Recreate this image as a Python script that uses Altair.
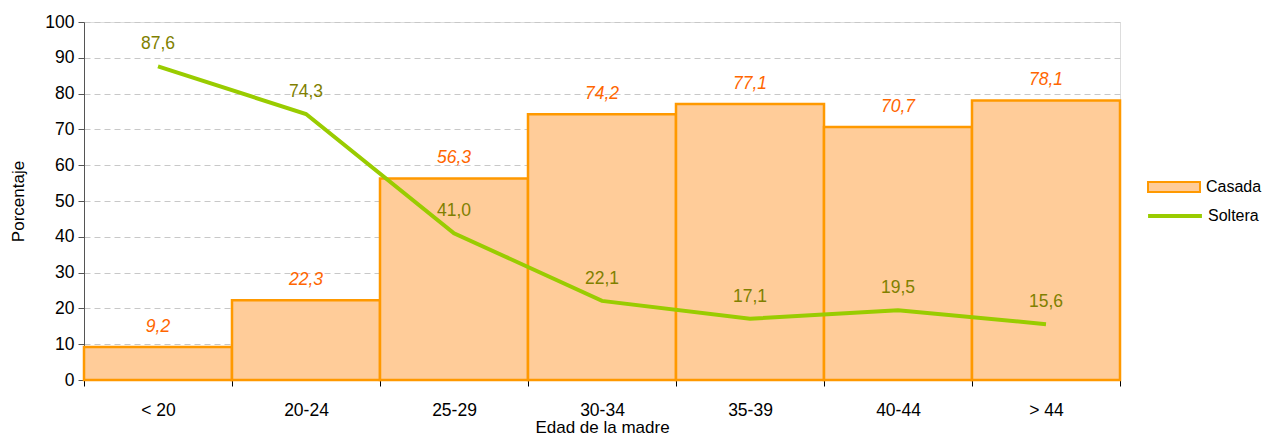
import altair as alt
import pandas as pd

categorias = ["< 20", "20-24", "25-29", "30-34", "35-39", "40-44", "> 44"]
casada = [9.2, 22.3, 56.3, 74.2, 77.1, 70.7, 78.1]
soltera = [87.6, 74.3, 41.0, 22.1, 17.1, 19.5, 15.6]
ticks_y = [0, 10, 20, 30, 40, 50, 60, 70, 80, 90, 100]

def fmt(v):
    return f"{v:.1f}".replace(".", ",")

df_c = pd.DataFrame({"edad": categorias, "valor": casada,
                     "texto": [fmt(v) for v in casada], "serie": "Casada"})
df_s = pd.DataFrame({"edad": categorias, "valor": soltera,
                     "texto": [fmt(v) for v in soltera], "serie": "Soltera"})

FONT = "Liberation Sans"
FS = 17.5
LFS = 16

x_enc = alt.X("edad:N", sort=categorias,
              scale=alt.Scale(paddingInner=0, paddingOuter=0),
              axis=alt.Axis(title="Edad de la madre", labelAngle=0, tickBand="extent",
                            labelFontSize=FS, titleFontSize=17, labelPadding=15,
                            titlePadding=1, titleFontWeight="normal",
                            domainColor="#000000", tickColor="#000000", tickSize=6,
                            labelColor="#000000", titleColor="#000000",
                            labelFont=FONT, titleFont=FONT))
y_enc = alt.Y("valor:Q", scale=alt.Scale(domain=[0, 100], nice=False),
              axis=alt.Axis(title="Porcentaje", values=ticks_y, labelOverlap=False,
                            labelFontSize=FS, titleFontSize=17, titleFontWeight="normal",
                            titlePadding=17, tickSize=6, labelPadding=4,
                            domainColor="#555555", tickColor="#555555",
                            labelColor="#000000", titleColor="#000000",
                            gridColor="#C8C8C8", gridDash=[6, 4], gridWidth=1,
                            labelFont=FONT, titleFont=FONT))

bars = alt.Chart(df_c).mark_bar(stroke="#FF9900", strokeWidth=2.5).encode(
    x=x_enc, y=y_enc,
    fill=alt.Fill("serie:N", scale=alt.Scale(domain=["Casada"], range=["#FFCC99"]),
                  legend=alt.Legend(title=None, orient="none", legendX=1063, legendY=138,
                                    symbolType="M-1,-0.19H1V0.19H-1Z", symbolSize=2700,
                                    symbolStrokeColor="#FF9900", symbolStrokeWidth=2,
                                    symbolOpacity=1, symbolFillColor="#FFCC99",
                                    labelFontSize=LFS, labelFont=FONT, labelColor="#000000",
                                    labelOffset=5, padding=0))
)

bar_labels = alt.Chart(df_c).mark_text(color="#FF6600", fontStyle="italic", fontSize=FS,
                                       font=FONT, dy=-20).encode(
    x=x_enc, y=y_enc, text="texto:N")

line = alt.Chart(df_s).mark_line(strokeWidth=4).encode(
    x=x_enc, y=y_enc,
    stroke=alt.Stroke("serie:N", scale=alt.Scale(domain=["Soltera"], range=["#99CC00"]),
                      legend=alt.Legend(title=None, orient="none", legendX=1062, legendY=165,
                                        symbolType="stroke", symbolSize=2900,
                                        symbolStrokeWidth=4, labelFontSize=LFS,
                                        labelFont=FONT, labelColor="#000000",
                                        labelOffset=4, padding=0))
)

line_labels = alt.Chart(df_s).mark_text(color="#808000", fontSize=FS, font=FONT, dy=-22).encode(
    x=x_enc, y=y_enc, text="texto:N")

chart = alt.layer(bars, bar_labels, line, line_labels).resolve_scale(
    fill="independent", stroke="independent"
).properties(
    width=1036, height=358,
    autosize=alt.AutoSizeParams(type="none"),
    padding={"left": 76, "top": 14, "right": 142, "bottom": 59},
).configure_view(stroke=None).configure(background="white")

chart.save("out.html", embed_options={"renderer": "svg", "actions": False})
